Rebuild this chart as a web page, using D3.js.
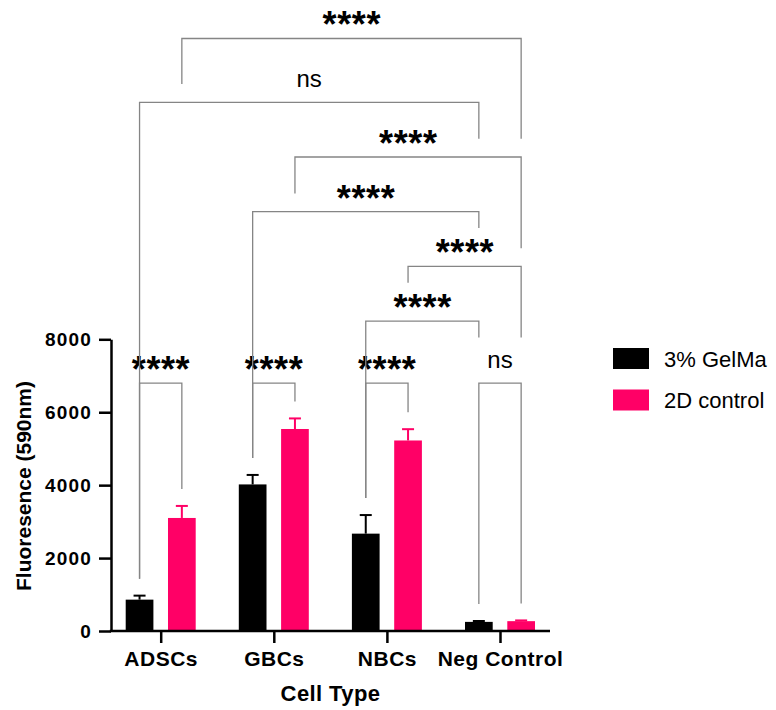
<!DOCTYPE html>
<html lang="en">
<head>
    <meta charset="UTF-8">
    <title>Fluoresence by Cell Type</title>
    <script src="https://d3js.org/d3.v7.min.js"></script>
    <style>
        body { margin: 0; background: #fff; }
        svg { display: block; font-family: "Liberation Sans", Arial, Helvetica, sans-serif; }
        .axis path, .axis line { stroke: #000; stroke-width: 2.5; }
        .bracket { fill: none; stroke: #858585; stroke-width: 1.3; }
    </style>
</head>
<body>
    <div id="chart"></div>
    <script>
        // values
        const categories = ["ADSCs", "GBCs", "NBCs", "Neg Control"];
        const seriesNames = ["3% GelMa", "2D control"];
        const gelmaMean = [860, 4020, 2670, 250];
        const gelmaErr = [110, 260, 510, 25];
        const controlMean = [3100, 5540, 5225, 270];
        const controlErr = [330, 290, 310, 20];
        const yTicks = [0, 2000, 4000, 6000, 8000];
        const colors = ["#000000", "#ff0066"];

        // within-group comparisons (3% GelMa vs 2D control)
        const withinLabels = ["****", "****", "****", "ns"];
        const withinLevel = 6800;

        // between-group comparisons, legs end on the bar when end is null
        const comparisons = [
            { a: "NBCs", sa: 0, endA: null, b: "Neg Control", sb: 0, endB: 8050, level: 8500, label: "****" },
            { a: "NBCs", sa: 1, endA: 9550, b: "Neg Control", sb: 1, endB: 8050, level: 10000, label: "****" },
            { a: "GBCs", sa: 0, endA: null, b: "Neg Control", sb: 0, endB: 11050, level: 11500, label: "****" },
            { a: "GBCs", sa: 1, endA: 12000, b: "Neg Control", sb: 1, endB: 10500, level: 13000, label: "****" },
            { a: "ADSCs", sa: 0, endA: null, b: "Neg Control", sb: 0, endB: 13500, level: 14500, label: "ns" },
            { a: "ADSCs", sa: 1, endA: 15000, b: "Neg Control", sb: 1, endB: 13500, level: 16250, label: "****" }
        ];

        const width = 776, height = 710;
        const plotLeft = 111, plotRight = 550, plotBottom = 631, plotTop = 339.3;
        const legGap = 17;

        const means = [gelmaMean, controlMean];
        const errs = [gelmaErr, controlErr];
        const rows = [];
        categories.forEach((c, i) => {
            seriesNames.forEach((s, j) => {
                rows.push({ cat: c, ci: i, si: j, mean: means[j][i], err: errs[j][i] });
            });
        });

        const svg = d3.select("#chart").append("svg")
            .attr("width", width)
            .attr("height", height);

        const x = d3.scalePoint()
            .domain(categories)
            .range([160.7, 500]);

        const xSub = d3.scaleBand()
            .domain([0, 1])
            .range([-35, 35])
            .paddingInner(0.345);

        const y = d3.scaleLinear()
            .domain([0, 8000])
            .range([plotBottom, plotTop]);

        const cx = (cat, si) => x(cat) + xSub(si) + xSub.bandwidth() / 2;
        const barTop = (ci, si) => y(means[si][ci] + errs[si][ci]);

        // bars
        svg.append("g").selectAll("rect")
            .data(rows)
            .join("rect")
            .attr("x", d => x(d.cat) + xSub(d.si))
            .attr("width", xSub.bandwidth())
            .attr("y", d => y(d.mean))
            .attr("height", d => y(0) - y(d.mean))
            .attr("fill", d => colors[d.si]);

        // error bars (upper only)
        const eb = svg.append("g").selectAll("g")
            .data(rows)
            .join("g")
            .attr("stroke", d => colors[d.si])
            .attr("stroke-width", 2);
        eb.append("line")
            .attr("x1", d => cx(d.cat, d.si))
            .attr("x2", d => cx(d.cat, d.si))
            .attr("y1", d => y(d.mean))
            .attr("y2", d => y(d.mean + d.err));
        eb.append("line")
            .attr("x1", d => cx(d.cat, d.si) - 6)
            .attr("x2", d => cx(d.cat, d.si) + 6)
            .attr("y1", d => y(d.mean + d.err))
            .attr("y2", d => y(d.mean + d.err));

        // y axis
        const yAxis = svg.append("g")
            .attr("class", "axis")
            .attr("transform", `translate(${plotLeft},0)`)
            .call(d3.axisLeft(y).tickValues(yTicks).tickFormat(d3.format("d"))
                .tickSize(12).tickSizeOuter(0).tickPadding(7));
        yAxis.selectAll("text")
            .attr("fill", "#000")
            .style("font-size", "19px")
            .style("font-weight", "bold")
            .style("letter-spacing", "1.2px");

        // x axis
        const xAxis = svg.append("g")
            .attr("class", "axis")
            .attr("transform", `translate(0,${plotBottom})`)
            .call(d3.axisBottom(x).tickSize(12).tickSizeOuter(0).tickPadding(8.5));
        xAxis.select(".domain").remove();
        xAxis.append("line")
            .attr("x1", plotLeft - 1.2)
            .attr("x2", plotRight)
            .attr("stroke", "#000")
            .attr("stroke-width", 2.5);
        xAxis.selectAll("text")
            .attr("fill", "#000")
            .style("font-size", "21px")
            .style("font-weight", "bold")
            .style("letter-spacing", "0.5px");

        // axis titles
        svg.append("text")
            .attr("transform", `translate(31,486) rotate(-90)`)
            .attr("text-anchor", "middle")
            .style("font-size", "21px")
            .style("font-weight", "bold")
            .text("Fluoresence (590nm)");

        svg.append("text")
            .attr("x", (plotLeft + plotRight) / 2)
            .attr("y", 701)
            .attr("text-anchor", "middle")
            .style("font-size", "22px")
            .style("font-weight", "bold")
            .style("letter-spacing", "0.4px")
            .text("Cell Type");

        // significance brackets
        const brackets = categories.map((c, i) => ({
            a: c, sa: 0, endA: null, b: c, sb: 1, endB: null, level: withinLevel, label: withinLabels[i]
        })).concat(comparisons);

        const bg = svg.append("g");
        brackets.forEach(br => {
            const xa = cx(br.a, br.sa), xb = cx(br.b, br.sb);
            const ya = br.endA === null ? barTop(categories.indexOf(br.a), br.sa) - legGap : y(br.endA);
            const yb = br.endB === null ? barTop(categories.indexOf(br.b), br.sb) - legGap : y(br.endB);
            const yl = y(br.level);
            bg.append("path")
                .attr("class", "bracket")
                .attr("d", `M${xa},${ya}V${yl}H${xb}V${yb}`);
            const t = bg.append("text")
                .attr("x", (xa + xb) / 2)
                .attr("text-anchor", "middle")
                .text(br.label);
            if (br.label === "ns") {
                t.attr("y", yl - 15.5).style("font-size", "24px");
            } else {
                t.attr("x", (xa + xb) / 2 + 0.3)
                    .attr("y", yl - 19 + 0.5 * 36)
                    .style("font-size", "36px")
                    .style("font-weight", "bold")
                    .style("letter-spacing", "0.6px");
            }
        });

        // legend
        const legend = svg.append("g").attr("transform", "translate(613,348)");
        const li = legend.selectAll("g")
            .data(seriesNames)
            .join("g")
            .attr("transform", (d, i) => `translate(0,${i * 41.5})`);
        li.append("rect")
            .attr("width", 36)
            .attr("height", 21)
            .attr("fill", (d, i) => colors[i]);
        li.append("text")
            .attr("x", 51)
            .attr("y", 18.5)
            .style("font-size", "22px")
            .text(d => d);
    </script>
</body>
</html>
